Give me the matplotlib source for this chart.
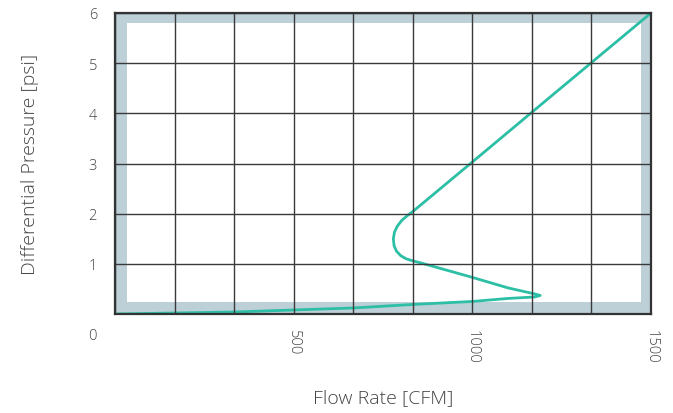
import matplotlib
matplotlib.use("Agg")
import matplotlib.pyplot as plt
from matplotlib.patches import Rectangle

plt.rcParams['font.family'] = ['Open Sans', 'DejaVu Sans']

flow = [0, 167, 333, 500, 667, 833, 1000, 1100, 1150, 1175, 1190, 1175, 1100, 1000, 900,
        860, 833, 815, 800, 788, 781, 779, 782, 790, 803, 818, 833, 1000, 1200, 1500]
pressure = [0, 0.02, 0.04, 0.08, 0.12, 0.19, 0.25, 0.31, 0.33, 0.34, 0.37, 0.40, 0.52, 0.73, 0.93,
            1.01, 1.06, 1.10, 1.16, 1.25, 1.36, 1.5, 1.63, 1.75, 1.87, 1.96, 2.04, 3.03, 4.22, 6.0]
xtick_vals = [i * 1500 / 9 for i in range(10)]
xtick_labels = ['', '', '', '500', '', '', '1000', '', '', '1500']
ytick_vals = [1, 2, 3, 4, 5, 6]

txt = '#444444'
fig = plt.figure(figsize=(6.73, 4.14), dpi=100)
ax = fig.add_axes([115/673, 99/414, 536/673, 301/414])
ax.set_xlim(0, 1500)
ax.set_ylim(0, 6)

band = '#bdd0d7'
for (x0, y0, w, h) in [(0, 0, 0.022, 1), (0, 0.967, 1, 0.033), (0.981, 0, 0.019, 1), (0, 0, 1, 0.04)]:
    ax.add_patch(Rectangle((x0, y0), w, h, transform=ax.transAxes, color=band, lw=0, zorder=0.5))

ax.set_xticks(xtick_vals)
ax.set_xticklabels(xtick_labels, rotation=270)
ax.set_yticks(ytick_vals)
ax.grid(True, color='#3a3a3a', lw=1.0, zorder=1)
ax.set_axisbelow(False)
ax.tick_params(axis='both', length=0, labelsize=10.5, labelcolor=txt)
ax.tick_params(axis='y', pad=13)
ax.tick_params(axis='x', pad=11)
for lbl in ax.get_xticklabels() + ax.get_yticklabels():
    lbl.set_fontweight('light')
ax.text(-0.043, -0.073, '0', transform=ax.transAxes, ha='center', va='center',
        fontsize=10.5, color=txt, fontweight='light')

for s in ax.spines.values():
    s.set_color('#333333')
    s.set_linewidth(1.6)
    s.set_zorder(3)

ax.plot(flow, pressure, color='#2dbfa5', lw=2.0, zorder=2, solid_capstyle='round', solid_joinstyle='round')

ax.set_xlabel('Flow Rate [CFM]', fontsize=14, color=txt, fontweight='light', labelpad=18)
ax.set_ylabel('Differential Pressure [psi]', fontsize=14, color=txt, fontweight='light', labelpad=36)

fig.savefig('out.png', dpi=100)
